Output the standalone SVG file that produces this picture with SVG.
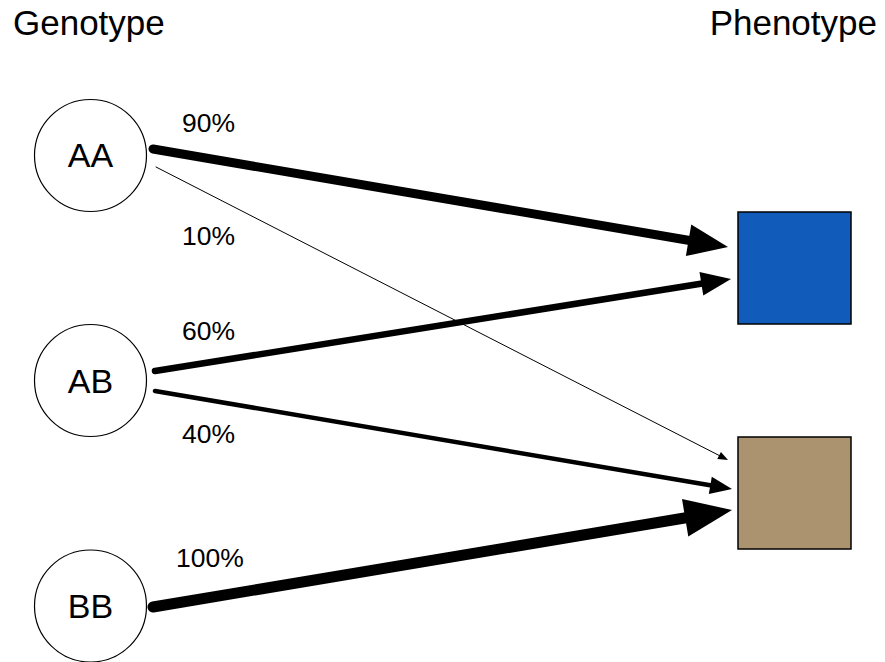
<svg xmlns="http://www.w3.org/2000/svg" xmlns:xlink="http://www.w3.org/1999/xlink" width="885" height="662" viewBox="0 0 885 662">
<style>
  text { font-family: "Liberation Sans", Arial, Helvetica, sans-serif; fill: #000; }
  .title { font-size: 35px; }
  .node-label { font-size: 34px; text-anchor: middle; }
  .pct { font-size: 26.5px; }
  .geno { fill: #fff; stroke: #000; stroke-width: 1.2; }
  .pheno { stroke: #000; stroke-width: 1.5; }
  .edge { stroke: #000; fill: none; stroke-linecap: round; }
  .head { fill: #000; stroke: none; }
</style>
<defs>
  <path id="head" d="M0 0 L-5 -2 L-5 2 Z"/>
</defs>
<rect width="885" height="662" fill="#fff"/>
<text class="title" x="13" y="35">Genotype</text>
<text class="title" x="877" y="35" text-anchor="end">Phenotype</text>

<g id="AA"><circle class="geno" cx="90.5" cy="155.5" r="56"/><text class="node-label" x="90.5" y="167.3">AA</text></g>
<g id="AB"><circle class="geno" cx="90.5" cy="380.5" r="56"/><text class="node-label" x="90.5" y="392.7">AB</text></g>
<g id="BB"><circle class="geno" cx="90.5" cy="606" r="56"/><text class="node-label" x="90.5" y="618">BB</text></g>

<g id="blue"><rect class="pheno" x="738" y="212" width="113" height="112" fill="#115BBB"/></g>
<g id="brown"><rect class="pheno" x="738" y="437" width="113" height="112" fill="#AC9370"/></g>

<g id="connectors">
  <g id="AA-blue">
    <line class="edge" x1="153" y1="149" x2="704.3" y2="243" stroke-width="9"/>
    <use class="head" xlink:href="#head" href="#head" transform="translate(728 247) rotate(9.67) scale(8)"/>
  </g>
  <g id="AA-brown">
    <line class="edge" x1="156" y1="167" x2="722.7" y2="457.3" stroke-width="1"/>
    <use class="head" xlink:href="#head" href="#head" transform="translate(728 460) rotate(27.12) scale(2)"/>
  </g>
  <g id="AB-blue">
    <line class="edge" x1="155" y1="371" x2="713.2" y2="281.8" stroke-width="6.5"/>
    <use class="head" xlink:href="#head" href="#head" transform="translate(731 279) rotate(-9.07) scale(6)"/>
  </g>
  <g id="AB-brown">
    <line class="edge" x1="155" y1="391" x2="719" y2="486.8" stroke-width="4.5"/>
    <use class="head" xlink:href="#head" href="#head" transform="translate(732 489) rotate(9.64) scale(4.4)"/>
  </g>
  <g id="BB-brown">
    <line class="edge" x1="153" y1="607" x2="705.4" y2="514.5" stroke-width="11"/>
    <use class="head" xlink:href="#head" href="#head" transform="translate(732 510) rotate(-9.51) scale(9.5)"/>
  </g>
  <text class="pct" x="182" y="132">90%</text>
  <text class="pct" x="182" y="245">10%</text>
  <text class="pct" x="182" y="340">60%</text>
  <text class="pct" x="182" y="443">40%</text>
  <text class="pct" x="176" y="567">100%</text>
</g>
</svg>
